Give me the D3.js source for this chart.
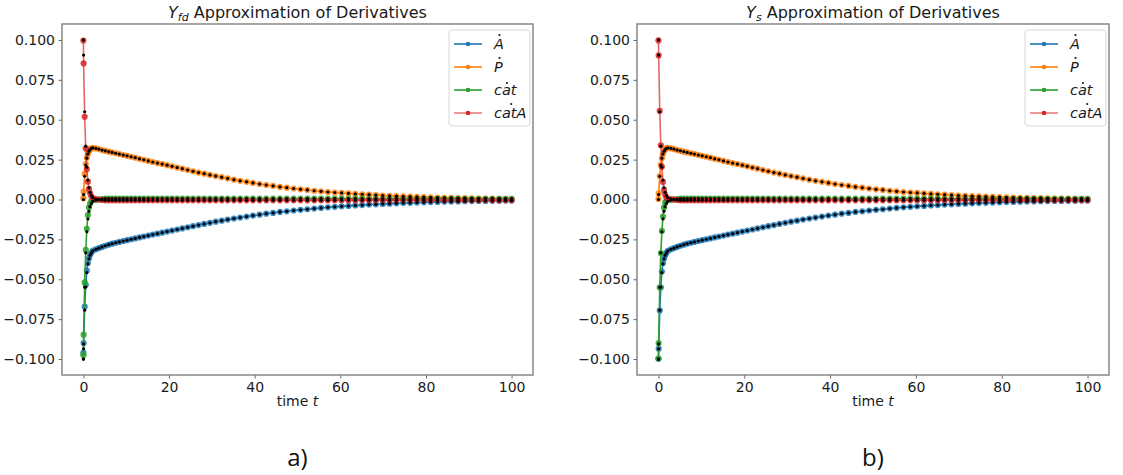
<!DOCTYPE html>
<html>
<head>
<meta charset="utf-8">
<script src="https://cdn.jsdelivr.net/npm/d3@7"></script>
<style>
  body { margin: 0; background: #fff; }
  svg { display: block; font-family: "DejaVu Sans", sans-serif; }
</style>
</head>
<body>
<script>
// time points of the solver output
const time = [0, 0.05, 0.3, 0.55, 0.8, 1.05, 1.3, 1.55, 1.85, 2.2,
  2.9, 3.6, 4.35, 5.1, 5.9, 6.7, 7.55, 8.4, 9.3, 10.2,
  11.15, 12.1, 13.1, 14.1, 15.15, 16.2, 17.3, 18.4, 19.55, 20.7,
  21.9, 23.1, 24.35, 25.6, 26.9, 28.2, 29.55, 30.9, 32.3, 33.7,
  35.15, 36.6, 38.1, 39.6, 41.15, 42.7, 44.3, 45.9, 47.5, 49.1,
  50.7, 52.3, 53.9, 55.5, 57.1, 58.7, 60.3, 61.9, 63.5, 65.1,
  66.7, 68.3, 69.9, 71.5, 73.1, 74.7, 76.3, 77.9, 79.5, 81.1,
  82.7, 84.3, 85.9, 87.5, 89.1, 90.7, 92.3, 93.9, 95.5, 97.1,
  98.6, 100];

// exact derivatives (black dots)
const dA = [-0.1000, -0.0936, -0.0694, -0.0549, -0.0458, -0.0404, -0.0372, -0.0350, -0.0335, -0.0322,
  -0.0312, -0.0305, -0.0297, -0.0290, -0.0283, -0.0277, -0.0271, -0.0266, -0.0260, -0.0255,
  -0.0249, -0.0244, -0.0238, -0.0232, -0.0226, -0.0220, -0.0214, -0.0208, -0.0201, -0.0195,
  -0.0188, -0.0181, -0.0174, -0.0167, -0.0160, -0.0153, -0.0146, -0.0139, -0.0133, -0.0126,
  -0.0119, -0.0113, -0.0107, -0.0101, -0.0095, -0.0089, -0.0084, -0.0078, -0.0074, -0.0069,
  -0.0065, -0.0061, -0.0057, -0.0053, -0.0049, -0.0046, -0.0043, -0.0040, -0.0037, -0.0035,
  -0.0032, -0.0030, -0.0028, -0.0026, -0.0024, -0.0022, -0.0021, -0.0019, -0.0018, -0.0016,
  -0.0015, -0.0014, -0.0013, -0.0012, -0.0011, -0.0010, -0.0009, -0.0009, -0.0008, -0.0008,
  -0.0007, -0.0007];
const dP = [0, 0.0031, 0.0145, 0.0216, 0.0259, 0.0285, 0.0302, 0.0313, 0.0320, 0.0324,
  0.0320, 0.0316, 0.0310, 0.0305, 0.0300, 0.0295, 0.0290, 0.0285, 0.0279, 0.0274,
  0.0268, 0.0262, 0.0255, 0.0249, 0.0242, 0.0235, 0.0228, 0.0222, 0.0215, 0.0208,
  0.0200, 0.0193, 0.0185, 0.0177, 0.0169, 0.0162, 0.0154, 0.0147, 0.0140, 0.0132,
  0.0124, 0.0117, 0.0111, 0.0104, 0.0097, 0.0091, 0.0085, 0.0079, 0.0074, 0.0069,
  0.0064, 0.0060, 0.0055, 0.0051, 0.0047, 0.0044, 0.0041, 0.0038, 0.0035, 0.0033,
  0.0030, 0.0028, 0.0025, 0.0023, 0.0021, 0.0019, 0.0018, 0.0016, 0.0015, 0.0013,
  0.0012, 0.0011, 0.0010, 0.0009, 0.0008, 0.0007, 0.0006, 0.0005, 0.0005, 0.0004,
  0.0004, 0.0003];
const dCat = [-0.1000, -0.0905, -0.0550, -0.0334, -0.0202, -0.0122, -0.0074, -0.0045, -0.0025, -0.0011,
  -0.0003, 0.0000, 0.0003, 0.0005, 0.0005, 0.0005, 0.0005, 0.0005, 0.0005, 0.0005,
  0.0005, 0.0005, 0.0005, 0.0005, 0.0005, 0.0005, 0.0005, 0.0005, 0.0005, 0.0005,
  0.0005, 0.0005, 0.0005, 0.0005, 0.0005, 0.0005, 0.0005, 0.0005, 0.0005, 0.0005,
  0.0005, 0.0005, 0.0005, 0.0005, 0.0005, 0.0005, 0.0005, 0.0005, 0.0005, 0.0005,
  0.0005, 0.0005, 0.0005, 0.0005, 0.0005, 0.0005, 0.0005, 0.0005, 0.0005, 0.0005,
  0.0004, 0.0004, 0.0004, 0.0004, 0.0004, 0.0004, 0.0004, 0.0004, 0.0004, 0.0004,
  0.0004, 0.0004, 0.0004, 0.0004, 0.0004, 0.0004, 0.0004, 0.0004, 0.0004, 0.0004,
  0.0004, 0.0004];
const dCatA = [0.1000, 0.0905, 0.0550, 0.0334, 0.0202, 0.0122, 0.0074, 0.0045, 0.0025, 0.0011,
  0.0003, 0.0000, -0.0003, -0.0005, -0.0005, -0.0005, -0.0005, -0.0005, -0.0005, -0.0005,
  -0.0005, -0.0005, -0.0005, -0.0005, -0.0005, -0.0005, -0.0005, -0.0005, -0.0005, -0.0005,
  -0.0005, -0.0005, -0.0005, -0.0005, -0.0005, -0.0005, -0.0005, -0.0005, -0.0005, -0.0005,
  -0.0005, -0.0005, -0.0005, -0.0005, -0.0005, -0.0005, -0.0005, -0.0005, -0.0005, -0.0005,
  -0.0005, -0.0005, -0.0005, -0.0005, -0.0005, -0.0005, -0.0005, -0.0005, -0.0005, -0.0005,
  -0.0004, -0.0004, -0.0004, -0.0004, -0.0004, -0.0004, -0.0004, -0.0004, -0.0004, -0.0004,
  -0.0004, -0.0004, -0.0004, -0.0004, -0.0004, -0.0004, -0.0004, -0.0004, -0.0004, -0.0004,
  -0.0004, -0.0004];

// finite difference approximation, first points (after that it follows the exact values)
const fdHeadA = [-0.0960, -0.0900, -0.0672, -0.0535, -0.0445, -0.0398, -0.0368, -0.0347, -0.0333, -0.0320];
const fdHeadP = [0.0008, 0.0049, 0.0160, 0.0222, 0.0262, 0.0287, 0.0303, 0.0314, 0.0320, 0.0324];
const fdHeadCat = [-0.0976, -0.0847, -0.0520, -0.0316, -0.0184, -0.0097, -0.0050, -0.0025, -0.0010, -0.0003];
const fdHeadCatA = [0.0996, 0.0853, 0.0518, 0.0320, 0.0190, 0.0112, 0.0066, 0.0040, 0.0020, 0.0008];

// spline approximation, first points
const spHeadA = [-0.0998, -0.0935, -0.0695, -0.0551, -0.0452, -0.0398, -0.0370, -0.0350, -0.0335, -0.0322];
const spHeadP = [0.0003, 0.0039, 0.0147, 0.0217, 0.0259, 0.0285, 0.0302, 0.0313, 0.0320, 0.0324];
const spHeadCat = [-0.0997, -0.0900, -0.0551, -0.0336, -0.0197, -0.0107, -0.0051, -0.0020, -0.0008, -0.0002];
const spHeadCatA = [0.0997, 0.0903, 0.0555, 0.0340, 0.0205, 0.0110, 0.0060, 0.0030, 0.0012, 0.0004];

const xTicks = [0, 20, 40, 60, 80, 100];
const yTicks = [-0.1, -0.075, -0.05, -0.025, 0, 0.025, 0.05, 0.075, 0.1];
const legendLabels = ['A', 'P', 'cat', 'catA'];
const colors = ['#1f77b4', '#ff7f0e', '#2ca02c', '#d62728'];

window.addEventListener('load', function() {
  const W = 1123, H = 475,
        top = 24, bottom = 375;

  function withHead(head, full) {
    return head.concat(full.slice(head.length));
  }

  const exact = [dA, dP, dCat, dCatA];

  function drawPanel(svg, cfg) {
    const x = d3.scaleLinear().domain([-5, 105]).range([cfg.left, cfg.right]),
          y = d3.scaleLinear().domain([-0.11, 0.11]).range([bottom, top]);
    const g = svg.append('g');

    // coloured approximations: line + markers
    cfg.series.forEach(function(vals, i) {
      const pts = time.map((t, j) => [t, vals[j]]);
      g.append('path')
        .attr('d', d3.line().x(d => x(d[0])).y(d => y(d[1]))(pts))
        .attr('fill', 'none')
        .attr('stroke', colors[i])
        .attr('stroke-width', 1.6)
        .attr('stroke-opacity', i === 3 ? 0.7 : 1);
      g.append('g').selectAll('circle')
        .data(pts)
        .join('circle')
        .attr('cx', d => x(d[0]))
        .attr('cy', d => y(d[1]))
        .attr('r', 3.1)
        .attr('fill', colors[i])
        .attr('fill-opacity', 0.85);
    });

    // exact derivatives as small black dots
    exact.forEach(function(vals) {
      g.append('g').selectAll('circle')
        .data(time.map((t, j) => [t, vals[j]]))
        .join('circle')
        .attr('cx', d => x(d[0]))
        .attr('cy', d => y(d[1]))
        .attr('r', 1.6)
        .attr('fill', '#000');
    });

    // axes
    const xAxis = svg.append('g')
      .attr('transform', 'translate(0,' + bottom + ')')
      .call(d3.axisBottom(x).tickValues(xTicks).tickSize(3.5).tickSizeOuter(0).tickPadding(3.5));
    const yAxis = svg.append('g')
      .attr('transform', 'translate(' + cfg.left + ',0)')
      .call(d3.axisLeft(y).tickValues(yTicks).tickFormat(d3.format('.3f')).tickSize(3.5).tickSizeOuter(0).tickPadding(3.5));
    [xAxis, yAxis].forEach(function(a) {
      a.select('.domain').remove();
      a.selectAll('line').attr('stroke', '#666').attr('stroke-width', 1);
      a.selectAll('text')
        .attr('fill', '#1a1a1a')
        .style('font-size', '14px')
        .style('font-family', '"DejaVu Sans", sans-serif');
    });

    svg.append('rect')
      .attr('x', cfg.left)
      .attr('y', top)
      .attr('width', cfg.right - cfg.left)
      .attr('height', bottom - top)
      .attr('fill', 'none')
      .attr('stroke', '#7f7f7f')
      .attr('stroke-width', 1.4);

    const cx = (cfg.left + cfg.right) / 2;

    // title
    const title = svg.append('text')
      .attr('x', cx)
      .attr('y', 18)
      .attr('text-anchor', 'middle')
      .attr('fill', '#1a1a1a')
      .style('font-size', '16px');
    title.append('tspan').style('font-style', 'italic').text('Y');
    title.append('tspan').style('font-style', 'italic').style('font-size', '11px').attr('dy', 3).text(cfg.sub);
    title.append('tspan').attr('dy', -3).text(' Approximation of Derivatives');

    // x label
    const xl = svg.append('text')
      .attr('x', cx)
      .attr('y', 406)
      .attr('text-anchor', 'middle')
      .attr('fill', '#1a1a1a')
      .style('font-size', '14px');
    xl.append('tspan').text('time ');
    xl.append('tspan').style('font-style', 'italic').text('t');

    // panel letter
    svg.append('text')
      .attr('x', cx)
      .attr('y', 466)
      .attr('text-anchor', 'middle')
      .attr('fill', '#111')
      .style('font-family', '"Open Sans", sans-serif')
      .style('font-size', '24px')
      .text(cfg.letter);

    // legend
    const lw = 81, lh = 96,
          lx = cfg.right - 3 - lw, ly = 30;
    const lg = svg.append('g');
    lg.append('rect')
      .attr('x', lx).attr('y', ly)
      .attr('width', lw).attr('height', lh)
      .attr('rx', 3)
      .attr('fill', '#fff').attr('fill-opacity', 0.8)
      .attr('stroke', '#d8d8d8').attr('stroke-width', 1);
    legendLabels.forEach(function(lab, i) {
      const ry = ly + 14 + i * 23;
      lg.append('line')
        .attr('x1', lx + 5).attr('x2', lx + 33)
        .attr('y1', ry).attr('y2', ry)
        .attr('stroke', colors[i])
        .attr('stroke-width', 1.6)
        .attr('stroke-opacity', i === 3 ? 0.6 : 1);
      lg.append('circle')
        .attr('cx', lx + 19).attr('cy', ry).attr('r', 2.3)
        .attr('fill', colors[i]);
      const t = lg.append('text')
        .attr('x', lx + 45)
        .attr('y', ry + 5)
        .attr('fill', '#1a1a1a')
        .style('font-size', '14.5px')
        .style('font-style', 'italic')
        .text(lab);
      const bb = t.node().getBBox();
      lg.append('circle')
        .attr('cx', bb.x + bb.width / 2 + 1)
        .attr('cy', ry - (lab === 'cat' ? 7 : 9))
        .attr('r', 1.1)
        .attr('fill', '#1a1a1a');
    });
  }

  (function() {
    const svg = d3.select('body').append('svg')
      .attr('width', W)
      .attr('height', H);

    drawPanel(svg, {
      left: 62, right: 533, sub: 'fd', letter: 'a)',
      series: [withHead(fdHeadA, dA), withHead(fdHeadP, dP), withHead(fdHeadCat, dCat), withHead(fdHeadCatA, dCatA)]
    });
    drawPanel(svg, {
      left: 637, right: 1109, sub: 's', letter: 'b)',
      series: [withHead(spHeadA, dA), withHead(spHeadP, dP), withHead(spHeadCat, dCat), withHead(spHeadCatA, dCatA)]
    });
  })();
});
</script>
</body>
</html>
